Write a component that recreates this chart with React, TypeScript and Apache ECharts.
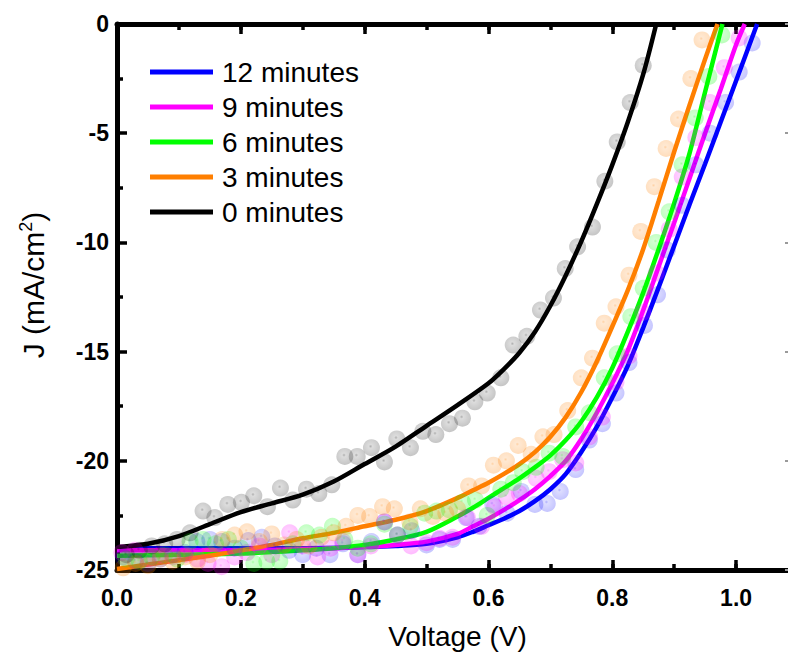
import React, { useEffect, useRef } from 'react';
import * as echarts from 'echarts';

const seriesNames = ['12 minutes', '9 minutes', '6 minutes', '3 minutes', '0 minutes'];
const lineColors = ['#0000ff', '#ff00ff', '#00ff00', '#ff7f00', '#000000'];
const pointRgb = ['0,0,255', '255,0,255', '0,255,0', '255,127,0', '0,0,0'];
const pointAlpha = [0.25, 0.3, 0.3, 0.3, 0.25];

const xTickValues = [0, 0.2, 0.4, 0.6, 0.8, 1.0];

// fitted curves (V, J)
const fit12 = [[0, -24.0], [0.1, -24.0], [0.2, -24.0], [0.3, -24.0], [0.4, -23.95], [0.45, -23.9], [0.5, -23.8], [0.55, -23.5], [0.575, -23.25], [0.6, -22.95], [0.625, -22.65], [0.65, -22.3], [0.675, -21.85], [0.7, -21.3], [0.725, -20.6], [0.75, -19.6], [0.775, -18.45], [0.8, -17.1], [0.825, -15.65], [0.85, -13.9], [0.875, -12.05], [0.9, -10.15], [0.925, -8.25], [0.95, -6.4], [0.975, -4.5], [1.0, -2.6], [1.034, 0]];
const fit9 = [[0, -24.1], [0.1, -24.1], [0.2, -24.1], [0.3, -24.05], [0.4, -23.95], [0.45, -23.85], [0.5, -23.7], [0.55, -23.35], [0.575, -23.0], [0.6, -22.65], [0.625, -22.25], [0.65, -21.8], [0.675, -21.3], [0.7, -20.7], [0.725, -20.0], [0.75, -19.0], [0.775, -17.8], [0.8, -16.45], [0.825, -14.95], [0.85, -13.1], [0.875, -11.1], [0.9, -9.1], [0.925, -7.05], [0.95, -5.0], [0.975, -3.0], [1.0, -0.95], [1.014, 0]];
const fit6 = [[0, -24.35], [0.1, -24.3], [0.2, -24.25], [0.3, -24.1], [0.35, -24.0], [0.4, -23.85], [0.45, -23.6], [0.5, -23.25], [0.55, -22.55], [0.575, -22.15], [0.6, -21.7], [0.625, -21.25], [0.65, -20.8], [0.675, -20.3], [0.7, -19.75], [0.725, -19.05], [0.75, -18.2], [0.775, -17.1], [0.8, -15.75], [0.825, -14.1], [0.85, -12.3], [0.875, -10.3], [0.9, -8.2], [0.925, -5.9], [0.95, -3.1], [0.978, 0]];
const fit3 = [[0, -24.95], [0.05, -24.75], [0.1, -24.55], [0.15, -24.35], [0.2, -24.1], [0.25, -23.85], [0.3, -23.55], [0.35, -23.3], [0.4, -23.0], [0.45, -22.7], [0.5, -22.3], [0.55, -21.7], [0.575, -21.35], [0.6, -21.0], [0.625, -20.6], [0.65, -20.15], [0.675, -19.6], [0.7, -18.9], [0.725, -18.0], [0.75, -16.85], [0.775, -15.45], [0.8, -13.85], [0.825, -12.2], [0.85, -10.3], [0.875, -8.1], [0.9, -5.85], [0.925, -3.7], [0.95, -1.6], [0.97, 0]];
const fit0 = [[0, -23.95], [0.05, -23.8], [0.1, -23.45], [0.15, -22.9], [0.2, -22.35], [0.25, -21.95], [0.3, -21.55], [0.35, -20.95], [0.4, -20.15], [0.45, -19.35], [0.5, -18.4], [0.55, -17.45], [0.6, -16.45], [0.625, -15.8], [0.65, -15.05], [0.675, -14.1], [0.7, -12.9], [0.725, -11.5], [0.75, -9.95], [0.775, -8.25], [0.8, -6.45], [0.825, -4.5], [0.85, -2.3], [0.871, 0]];

// measured points (V, J)
const pts12 = [[0.01, -24.4], [0.03, -24.6], [0.05, -24.7], [0.07, -24.5], [0.09, -24.3], [0.11, -24.2], [0.129, -23.7], [0.15, -23.6], [0.169, -23.7], [0.19, -24.0], [0.212, -23.65], [0.234, -23.5], [0.255, -23.9], [0.278, -24.1], [0.3, -24.3], [0.322, -24.0], [0.344, -24.3], [0.365, -23.8], [0.389, -24.3], [0.411, -23.7], [0.432, -22.8], [0.453, -23.4], [0.476, -23.2], [0.5, -23.85], [0.521, -23.6], [0.542, -23.6], [0.564, -22.6], [0.585, -23.0], [0.607, -22.0], [0.63, -22.4], [0.653, -21.4], [0.675, -22.0], [0.695, -21.95], [0.716, -21.4], [0.741, -20.4], [0.763, -19.05], [0.784, -18.3], [0.806, -16.9], [0.827, -15.5], [0.852, -13.8], [0.873, -12.4], [0.889, -10.35], [0.913, -8.3], [0.935, -6.45], [0.958, -5.0], [0.983, -3.6], [1.005, -2.2], [1.026, -0.87]];
const pts9 = [[0.008, -24.2], [0.029, -24.1], [0.05, -24.5], [0.07, -24.3], [0.09, -24.4], [0.11, -24.3], [0.13, -24.5], [0.147, -24.7], [0.169, -24.85], [0.19, -24.4], [0.21, -24.2], [0.23, -23.9], [0.25, -24.3], [0.279, -23.3], [0.3, -23.9], [0.324, -24.4], [0.345, -24.0], [0.365, -23.7], [0.389, -24.3], [0.41, -23.9], [0.432, -22.8], [0.453, -23.4], [0.475, -23.9], [0.5, -23.75], [0.521, -23.55], [0.542, -23.5], [0.566, -22.6], [0.589, -23.0], [0.61, -22.1], [0.629, -21.65], [0.65, -21.5], [0.677, -20.8], [0.698, -20.5], [0.72, -19.95], [0.741, -20.1], [0.763, -18.9], [0.784, -18.0], [0.806, -16.4], [0.827, -15.2], [0.849, -13.2], [0.871, -11.4], [0.892, -9.4], [0.913, -7.0], [0.935, -5.2], [0.958, -3.6], [0.981, -2.0], [1.005, -0.64]];
const pts6 = [[0.015, -24.5], [0.036, -24.6], [0.056, -24.4], [0.077, -24.3], [0.097, -24.5], [0.118, -23.7], [0.139, -23.6], [0.159, -23.8], [0.18, -23.6], [0.2, -24.0], [0.221, -24.7], [0.242, -24.6], [0.263, -24.6], [0.284, -23.8], [0.306, -23.3], [0.327, -23.4], [0.348, -23.0], [0.368, -23.6], [0.389, -24.0], [0.41, -23.8], [0.432, -22.9], [0.453, -23.4], [0.474, -23.0], [0.497, -22.4], [0.516, -22.3], [0.537, -22.25], [0.558, -21.9], [0.579, -21.8], [0.598, -22.5], [0.62, -21.3], [0.64, -21.0], [0.655, -20.5], [0.677, -20.3], [0.698, -19.65], [0.72, -19.8], [0.741, -18.45], [0.763, -17.8], [0.787, -16.2], [0.808, -15.1], [0.83, -13.4], [0.85, -12.1], [0.871, -10.0], [0.892, -8.6], [0.913, -6.45], [0.934, -4.3], [0.956, -2.4], [0.977, -0.5]];
const pts3 = [[0.01, -24.9], [0.03, -24.7], [0.05, -24.8], [0.07, -24.5], [0.09, -24.6], [0.11, -24.4], [0.13, -24.6], [0.15, -24.3], [0.17, -23.6], [0.19, -23.4], [0.21, -23.25], [0.23, -23.7], [0.25, -23.35], [0.27, -23.85], [0.29, -23.6], [0.31, -23.9], [0.33, -23.5], [0.35, -23.3], [0.37, -23.0], [0.389, -22.5], [0.408, -22.55], [0.429, -22.1], [0.448, -22.2], [0.473, -22.8], [0.49, -22.2], [0.51, -22.55], [0.531, -22.4], [0.55, -22.2], [0.568, -21.15], [0.589, -21.15], [0.608, -20.2], [0.629, -20.0], [0.648, -19.3], [0.669, -19.7], [0.688, -18.9], [0.706, -18.8], [0.728, -17.7], [0.75, -16.2], [0.768, -15.3], [0.787, -13.7], [0.806, -12.95], [0.827, -11.5], [0.846, -9.5], [0.868, -7.45], [0.887, -5.7], [0.907, -4.35], [0.927, -2.5], [0.945, -0.73]];
const pts0 = [[0.015, -24.3], [0.036, -24.1], [0.056, -23.9], [0.077, -23.8], [0.097, -23.6], [0.118, -23.3], [0.139, -22.3], [0.158, -22.6], [0.179, -22.0], [0.201, -21.9], [0.221, -21.6], [0.243, -22.1], [0.264, -21.25], [0.284, -21.8], [0.306, -21.3], [0.326, -21.5], [0.347, -21.1], [0.368, -19.8], [0.388, -19.8], [0.411, -19.4], [0.432, -20.05], [0.452, -19.0], [0.474, -19.4], [0.494, -18.65], [0.515, -18.8], [0.537, -18.3], [0.558, -18.05], [0.578, -17.3], [0.598, -16.9], [0.62, -16.2], [0.64, -14.7], [0.662, -14.3], [0.684, -13.1], [0.705, -12.55], [0.724, -11.2], [0.744, -10.2], [0.768, -9.3], [0.788, -7.2], [0.808, -5.4], [0.829, -3.6], [0.85, -1.9]];

const fits = [fit12, fit9, fit6, fit3, fit0];
const points = [pts12, pts9, pts6, pts3, pts0];

const FONT = '"Liberation Sans", Arial, sans-serif';

function pointFill(i: number) {
  const c = pointRgb[i];
  const a = pointAlpha[i];
  return {
    type: 'radial',
    x: 0.45,
    y: 0.42,
    r: 0.6,
    colorStops: [
      { offset: 0, color: `rgba(${c},${a + 0.15})` },
      { offset: 0.18, color: `rgba(${c},${a - 0.08})` },
      { offset: 1, color: `rgba(${c},${a + 0.04})` },
    ],
  };
}

export default function App() {
  const ref = useRef<HTMLDivElement>(null);
  useEffect(() => {
    if (!ref.current) return;
    const chart = echarts.init(ref.current, undefined, { renderer: 'svg' });
    const order = [0, 1, 2, 3, 4];
    const series: any[] = [];
    order.forEach((i) => {
      series.push({
        name: seriesNames[i],
        type: 'line',
        data: fits[i],
        smooth: 0.3,
        symbol: 'none',
        showSymbol: false,
        color: lineColors[i],
        itemStyle: { color: lineColors[i] },
        lineStyle: { color: lineColors[i], width: 4.5 },
        z: 3,
        xAxisIndex: 0,
        yAxisIndex: 0,
      });
    });
    order.forEach((i) => {
      series.push({
        name: seriesNames[i] + ' data',
        type: 'scatter',
        data: points[i],
        symbol: 'circle',
        symbolSize: 17,
        itemStyle: { color: pointFill(i) },
        z: 4,
        xAxisIndex: 0,
        yAxisIndex: 0,
      });
    });

    const xBase = {
      type: 'value',
      min: 0,
      max: 1.1,
      splitLine: { show: false },
    };

    chart.setOption({
      animation: false,
      backgroundColor: '#ffffff',
      grid: { left: 117, top: 24, width: 681, height: 546, containLabel: false, outerBoundsMode: 'none' },
      legend: {
        orient: 'vertical',
        left: 150,
        top: 58,
        padding: 0,
        itemWidth: 63,
        itemHeight: 5,
        itemGap: 7,
        selectedMode: false,
        data: seriesNames.map((n) => ({ name: n, icon: 'rect' })),
        textStyle: { fontSize: 28, fontFamily: FONT, color: '#000', lineHeight: 27, padding: [0, 0, 0, 4] },
      },
      xAxis: [
        {
          ...xBase,
          position: 'bottom',
          interval: 0.2,
          axisLine: { show: true, onZero: false, lineStyle: { color: '#000', width: 5 } },
          axisTick: { show: true, inside: true, length: 10, lineStyle: { color: '#000', width: 3.5 } },
          axisLabel: {
            show: true,
            margin: 16,
            fontSize: 23,
            fontWeight: 'bold',
            fontFamily: FONT,
            color: '#000',
            formatter: (v: number) => {
              const hit = xTickValues.find((t) => Math.abs(t - v) < 1e-6);
              return hit === undefined ? '' : hit.toFixed(1);
            },
          },
          name: 'Voltage (V)',
          nameLocation: 'middle',
          nameGap: 52,
          nameTextStyle: { fontSize: 28, fontFamily: FONT, color: '#000' },
        },
        {
          ...xBase,
          position: 'top',
          interval: 0.2,
          axisLine: { show: true, onZero: false, lineStyle: { color: '#000', width: 5 } },
          axisTick: { show: true, inside: true, length: 10, lineStyle: { color: '#000', width: 3.5 } },
          axisLabel: { show: false },
        },
        {
          ...xBase,
          position: 'bottom',
          interval: 0.1,
          axisLine: { show: false, onZero: false },
          axisTick: { show: true, inside: true, length: 6, lineStyle: { color: '#000', width: 3.5 } },
          axisLabel: { show: false },
        },
        {
          ...xBase,
          position: 'top',
          interval: 0.1,
          axisLine: { show: false, onZero: false },
          axisTick: { show: true, inside: true, length: 6, lineStyle: { color: '#000', width: 3.5 } },
          axisLabel: { show: false },
        },
      ],
      yAxis: [
        {
          type: 'value',
          position: 'left',
          min: -25,
          max: 0,
          interval: 5,
          splitLine: { show: false },
          axisLine: { show: true, onZero: false, lineStyle: { color: '#000', width: 5 } },
          axisTick: { show: true, inside: true, length: 10, lineStyle: { color: '#000', width: 3.5 } },
          minorTick: { show: true, splitNumber: 2, length: 6, lineStyle: { color: '#000', width: 3.5 } },
          axisLabel: {
            show: true,
            margin: 8,
            fontSize: 23,
            fontWeight: 'bold',
            fontFamily: FONT,
            color: '#000',
          },
        },
        {
          type: 'value',
          position: 'right',
          min: -25,
          max: 0,
          interval: 5,
          splitLine: { show: false },
          axisLine: { show: false, onZero: false },
          axisTick: { show: true, inside: true, length: 13, lineStyle: { color: '#9a9a9a', width: 2 } },
          axisLabel: { show: false },
        },
      ],
      graphic: [
        {
          type: 'text',
          x: 33,
          y: 285,
          rotation: Math.PI / 2,
          style: {
            text: 'J (mA/cm{sup|2})',
            fontSize: 30,
            fontFamily: FONT,
            fill: '#000',
            align: 'center',
            verticalAlign: 'middle',
            rich: {
              sup: { fontSize: 18, fontFamily: FONT, fill: '#000', padding: [0, 0, 15, 0] },
            },
          },
        },
      ],
      series,
    });
    return () => chart.dispose();
  }, []);
  return (
    <div
      ref={ref}
      style={{ position: 'fixed', left: 0, top: 0, width: 788, height: 652, overflow: 'hidden', background: '#fff' }}
    />
  );
}
